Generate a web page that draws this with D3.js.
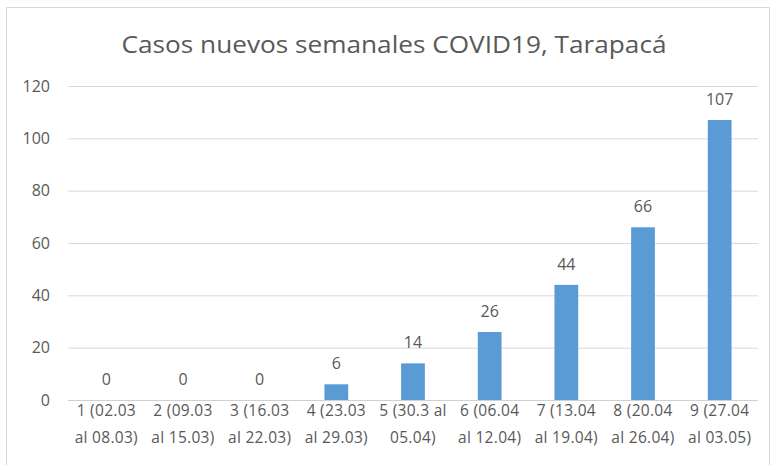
<!DOCTYPE html>
<html>
<head>
<meta charset="utf-8">
<script src="https://cdn.jsdelivr.net/npm/d3@7"></script>
<style>
  body { margin: 0; background: #fff; }
  text { font-family: "Open Sans", "Noto Sans", sans-serif; fill: #595959; }
</style>
</head>
<body>
<div id="chart"></div>
<script>
// weekly new cases, Tarapacá
var weeks = ["1 (02.03|al 08.03)", "2 (09.03|al 15.03)", "3 (16.03|al 22.03)", "4 (23.03|al 29.03)",
             "5 (30.3 al|05.04)", "6 (06.04|al 12.04)", "7 (13.04|al 19.04)", "8 (20.04|al 26.04)", "9 (27.04|al 03.05)"];
var cases = [0, 0, 0, 6, 14, 26, 44, 66, 107];
var yTicks = [0, 20, 40, 60, 80, 100, 120];
var title = "Casos nuevos semanales COVID19, Tarapacá";

var w = 770, h = 465;
var margin = {top: 86, right: 12, bottom: 65, left: 68};

var svg = d3.select("#chart").append("svg")
  .attr("width", w)
  .attr("height", h);

// chart frame
svg.append("path")
  .attr("d", "M6.5," + h + "V7.5H769.5V" + h)
  .attr("fill", "none")
  .attr("stroke", "#d9d9d9");

var x = d3.scaleBand()
  .domain(weeks)
  .range([margin.left, w - margin.right])
  .paddingInner(0.69)
  .paddingOuter(0.345);

var y = d3.scaleLinear()
  .domain([0, 120])
  .range([h - margin.bottom, margin.top]);

svg.append("text")
  .attr("x", 394)
  .attr("y", 53)
  .attr("text-anchor", "middle")
  .attr("font-size", 23)
  .attr("textLength", 545)
  .attr("lengthAdjust", "spacingAndGlyphs")
  .text(title);

// gridlines + y labels
var yAxis = svg.append("g")
  .attr("transform", "translate(" + margin.left + ",0)")
  .call(d3.axisLeft(y).tickValues(yTicks).tickSize(-(w - margin.left - margin.right)).tickPadding(18));
yAxis.select(".domain").remove();
yAxis.selectAll(".tick line").attr("stroke", "#d9d9d9");
yAxis.selectAll(".tick text").attr("font-size", 16).attr("fill", "#595959").attr("font-family", null);

svg.selectAll("rect.bar")
  .data(cases)
  .enter()
  .append("rect")
  .attr("class", "bar")
  .attr("x", function(d, i) { return x(weeks[i]); })
  .attr("width", x.bandwidth())
  .attr("y", function(d) { return y(d); })
  .attr("height", function(d) { return y(0) - y(d); })
  .attr("fill", "#5b9bd5");

// baseline
svg.append("line")
  .attr("x1", margin.left).attr("x2", w - margin.right)
  .attr("y1", y(0) + 0.5).attr("y2", y(0) + 0.5)
  .attr("stroke", "#d0d0d0");

svg.selectAll("text.val")
  .data(cases)
  .enter()
  .append("text")
  .attr("class", "val")
  .attr("x", function(d, i) { return x(weeks[i]) + x.bandwidth() / 2; })
  .attr("y", function(d) { return y(d) - 15; })
  .attr("text-anchor", "middle")
  .attr("font-size", 16)
  .attr("fill", "#404040")
  .text(function(d) { return d; });

// two-line category labels
var xl = svg.selectAll("text.cat")
  .data(weeks)
  .enter()
  .append("text")
  .attr("class", "cat")
  .attr("text-anchor", "middle")
  .attr("font-size", 15.5)
  .attr("letter-spacing", 0.3)
  .attr("x", function(d) { return x(d) + x.bandwidth() / 2; })
  .attr("y", 416);
xl.append("tspan")
  .attr("x", function(d) { return x(d) + x.bandwidth() / 2; })
  .text(function(d) { return d.split("|")[0]; });
xl.append("tspan")
  .attr("x", function(d) { return x(d) + x.bandwidth() / 2; })
  .attr("dy", 27)
  .text(function(d) { return d.split("|")[1]; });
</script>
</body>
</html>
